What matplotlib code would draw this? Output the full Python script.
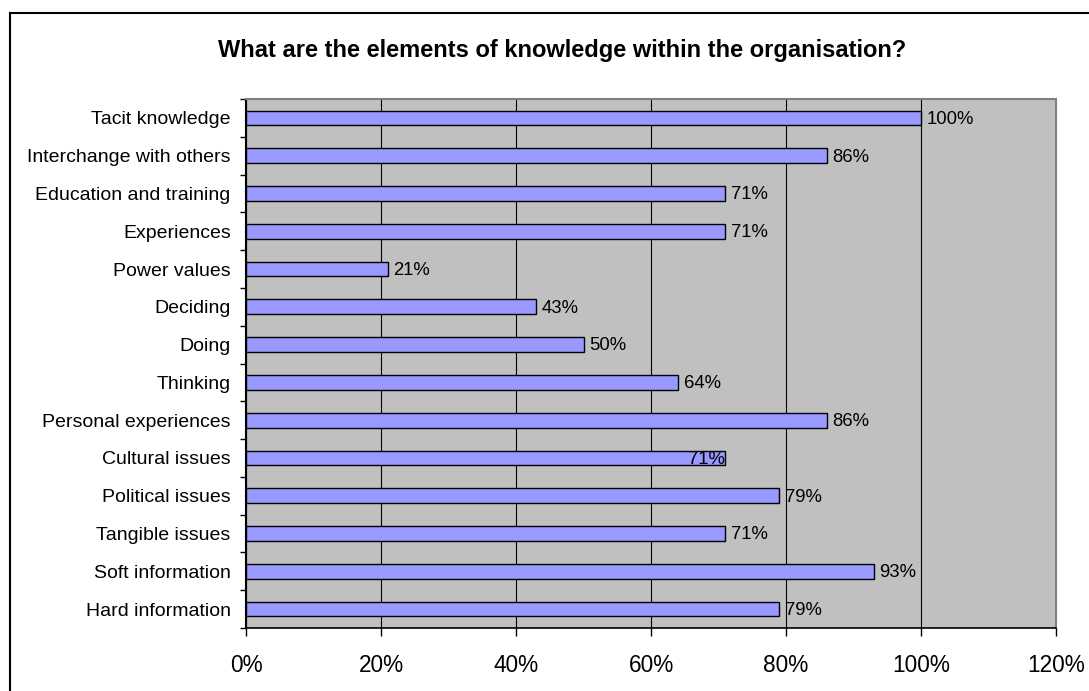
import matplotlib
matplotlib.use("Agg")
import matplotlib.pyplot as plt
from matplotlib.lines import Line2D

plt.rcParams['font.family'] = ['Liberation Sans', 'DejaVu Sans']

# Survey answers, listed top to bottom as they appear on the chart
categories = [
    "Tacit knowledge",
    "Interchange with others",
    "Education and training",
    "Experiences",
    "Power values",
    "Deciding",
    "Doing",
    "Thinking",
    "Personal experiences",
    "Cultural issues",
    "Political issues",
    "Tangible issues",
    "Soft information",
    "Hard information",
]
values = [100, 86, 71, 71, 21, 43, 50, 64, 86, 71, 79, 71, 93, 79]
x_ticks = [0, 20, 40, 60, 80, 100, 120]
x_tick_labels = [f"{t}%" for t in x_ticks]
title = "What are the elements of knowledge within the organisation?"

W, H = 1089, 691
fig = plt.figure(figsize=(W / 100, H / 100), dpi=100)

# plot area in pixel coordinates
left, right, top, bottom = 246, 1056, 99, 628
ax = fig.add_axes([left / W, 1 - bottom / H, (right - left) / W, (bottom - top) / H])
ax.set_facecolor("#C0C0C0")

n = len(categories)
pos = list(range(n))
ax.barh(pos, values, height=0.39, color="#9999FF", edgecolor="black",
        linewidth=1.0, zorder=3)

ax.set_xlim(0, 120)
ax.set_ylim(n - 0.5, -0.5)

ax.set_xticks(x_ticks)
ax.set_xticklabels(x_tick_labels, fontsize=16.3)
ax.tick_params(axis="x", direction="out", length=6, width=1, pad=13, color="black")

ax.set_yticks(pos)
ax.set_yticklabels(categories, fontsize=14)
ax.tick_params(axis="y", which="major", length=0, pad=11)
ax.set_yticks([p - 0.5 for p in pos] + [n - 0.5], minor=True)
ax.tick_params(axis="y", which="minor", direction="out", length=4.5, width=1, color="black")

ax.xaxis.grid(True, color="black", linewidth=0.8)
ax.set_axisbelow(True)

ax.spines["left"].set_color("black")
ax.spines["left"].set_linewidth(1.5)
ax.spines["bottom"].set_color("black")
ax.spines["bottom"].set_linewidth(1.2)
for s in ("top", "right"):
    ax.spines[s].set_color("#808080")
    ax.spines[s].set_linewidth(1.5)

# value labels next to each bar
for i, v in enumerate(values):
    if categories[i] == "Cultural issues":
        ax.annotate(f"{v}%", (v, i), xytext=(0, -1), textcoords="offset points",
                    ha="right", va="center", fontsize=13.3, zorder=4)
    else:
        ax.annotate(f"{v}%", (v, i), xytext=(4, -1), textcoords="offset points",
                    ha="left", va="center", fontsize=13.3, zorder=4)

fig.text(562 / W, 1 - 51 / H, title, ha="center", va="center",
         fontsize=17, fontweight="bold")

# chart frame
fig.add_artist(Line2D([10 / W, 10 / W], [0, 1 - 13 / H], transform=fig.transFigure,
                      color="black", linewidth=1.5))
fig.add_artist(Line2D([10 / W, 1], [1 - 13 / H, 1 - 13 / H], transform=fig.transFigure,
                      color="black", linewidth=1.5))

fig.savefig("out.png", dpi=100)
